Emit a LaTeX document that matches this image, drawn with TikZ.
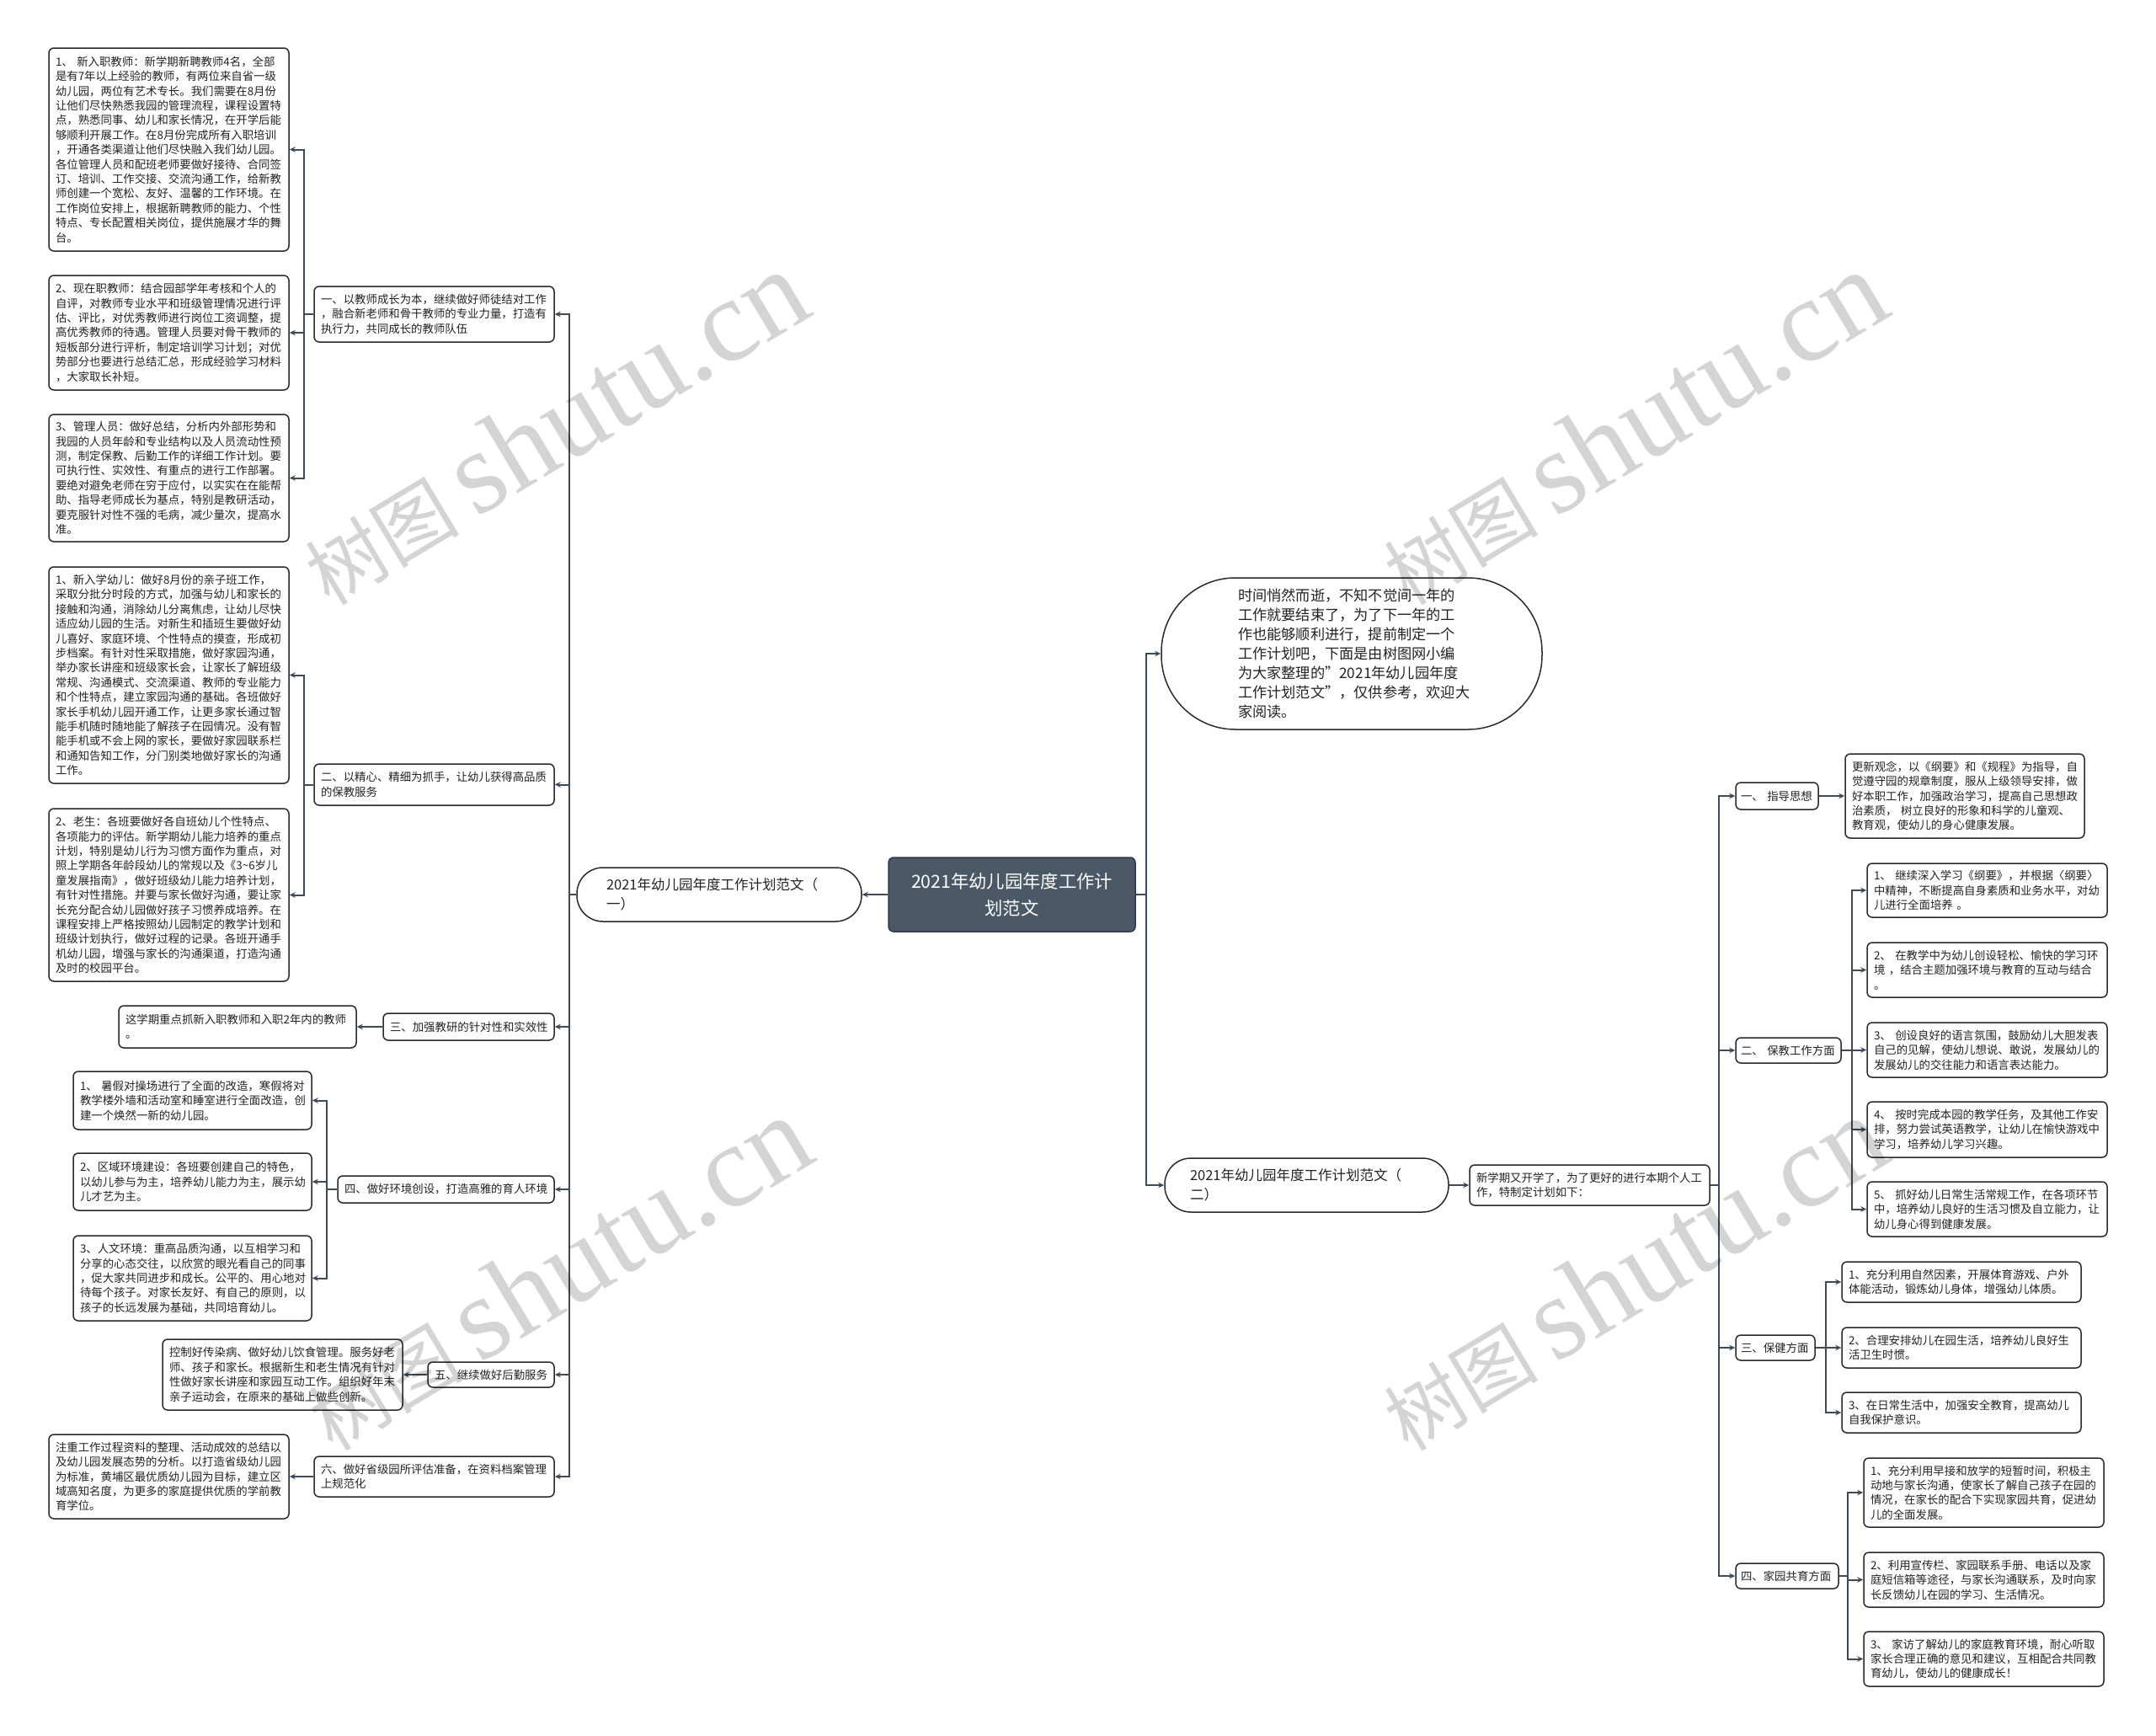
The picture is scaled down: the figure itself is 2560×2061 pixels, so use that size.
\documentclass[tikz,border=0pt]{standalone}
\usepackage{fontspec}
\setmainfont{Noto Sans CJK SC}
\newfontfamily\wmlatin{Liberation Serif}
\usetikzlibrary{arrows.meta}
\definecolor{boxc}{HTML}{2A2A2A}
\definecolor{textc}{HTML}{222222}
\definecolor{linec}{HTML}{3E4B57}
\definecolor{rootc}{HTML}{4B5866}
\definecolor{rootb}{HTML}{2E3A45}
\newcommand\fsm{\fontsize{13.4pt}{17.4pt}\selectfont}
\newcommand\fmid{\fontsize{16.5pt}{23pt}\selectfont}
\newcommand\fintro{\fontsize{17.2pt}{23pt}\selectfont}
\newcommand\fbig{\fontsize{21.3pt}{32pt}\selectfont}
\newcommand\mkbox[7][]{%
 \pgfmathsetmacro\bxcx{(#3+#5)/2}%
 \pgfmathsetmacro\bxcy{(#4+#6)/2}%
 \pgfmathsetmacro\bxw{#5-#3}%
 \pgfmathsetmacro\bxh{#6-#4}%
 \pgfmathsetmacro\bxtw{#5-#3-16}%
 \node[box,minimum width=\bxw pt,minimum height=\bxh pt,text width=\bxtw pt,#1] (#2) at (\bxcx,\bxcy) {#7};}
\tikzset{
 box/.style={draw=boxc, line width=1.5pt, rounded corners=6pt, fill=white, inner xsep=8pt, inner ysep=0pt, align=left, font=\fsm, text=textc},
 conn/.style={draw=linec, line width=2pt, -{Stealth[length=7pt,width=6.5pt]}},
 rootst/.style={fill=rootc, draw=rootb, text=white, font=\fbig, align=center, text width=281pt, inner xsep=6pt},
 pill/.style={font=\fmid, inner xsep=35pt, text width=268pt, rounded corners=31pt},
 introst/.style={font=\fintro, inner xsep=91pt, text width=270pt, rounded corners=88pt},
 wm/.style={rotate=31, text=black, text opacity=0.17, inner sep=0pt},
}
\begin{document}
\begin{tikzpicture}[x=1pt,y=-1pt]
\fill[white] (0,0) rectangle (2560,2061);
\useasboundingbox (0,0) rectangle (2560,2061);

% root and first level
\mkbox[rootst]{root}{1055}{1018}{1348}{1106}{2021年幼儿园年度工作计\\划范文}
\mkbox[pill]{N1}{685}{1030}{1023}{1094}{2021年幼儿园年度工作计划范文（\\一）}
\mkbox[introst]{intro}{1379}{686}{1831}{866}{时间悄然而逝，不知不觉间一年的\\工作就要结束了，为了下一年的工\\作也能够顺利进行，提前制定一个\\工作计划吧，下面是由树图网小编\\为大家整理的"2021年幼儿园年度\\工作计划范文"，仅供参考，欢迎大\\家阅读。}
\mkbox[pill,inner xsep=30pt,text width=277pt]{N2}{1383}{1375}{1720}{1439}{2021年幼儿园年度工作计划范文（\\二）}

% left branches
\mkbox{B1}{373}{340}{658}{406}{一、以教师成长为本，继续做好师徒结对工作\\，融合新老师和骨干教师的专业力量，打造有\\执行力，共同成长的教师队伍}
\mkbox{L1}{58}{57}{343}{298}{1、~新入职教师：新学期新聘教师4名，全部\\是有7年以上经验的教师，有两位来自省一级\\幼儿园，两位有艺术专长。我们需要在8月份\\让他们尽快熟悉我园的管理流程，课程设置特\\点，熟悉同事、幼儿和家长情况，在开学后能\\够顺利开展工作。在8月份完成所有入职培训\\，开通各类渠道让他们尽快融入我们幼儿园。\\各位管理人员和配班老师要做好接待、合同签\\订、培训、工作交接、交流沟通工作，给新教\\师创建一个宽松、友好、温馨的工作环境。在\\工作岗位安排上，根据新聘教师的能力、个性\\特点、专长配置相关岗位，提供施展才华的舞\\台。}
\mkbox{L2}{58}{327}{343}{463}{2、现在职教师：结合园部学年考核和个人的\\自评，对教师专业水平和班级管理情况进行评\\估、评比，对优秀教师进行岗位工资调整，提\\高优秀教师的待遇。管理人员要对骨干教师的\\短板部分进行评析，制定培训学习计划；对优\\势部分也要进行总结汇总，形成经验学习材料\\，大家取长补短。}
\mkbox{L3}{58}{492}{343}{643}{3、管理人员：做好总结，分析内外部形势和\\我园的人员年龄和专业结构以及人员流动性预\\测，制定保教、后勤工作的详细工作计划。要\\可执行性、实效性、有重点的进行工作部署。\\要绝对避免老师在穷于应付，以实实在在能帮\\助、指导老师成长为基点，特别是教研活动，\\要克服针对性不强的毛病，减少量次，提高水\\准。}

\mkbox{B2}{373}{907}{658}{956}{二、以精心、精细为抓手，让幼儿获得高品质\\的保教服务}
\mkbox{L2a}{58}{673}{343}{930}{1、新入学幼儿：做好8月份的亲子班工作，\\采取分批分时段的方式，加强与幼儿和家长的\\接触和沟通，消除幼儿分离焦虑，让幼儿尽快\\适应幼儿园的生活。对新生和插班生要做好幼\\儿喜好、家庭环境、个性特点的摸查，形成初\\步档案。有针对性采取措施，做好家园沟通，\\举办家长讲座和班级家长会，让家长了解班级\\常规、沟通模式、交流渠道、教师的专业能力\\和个性特点，建立家园沟通的基础。各班做好\\家长手机幼儿园开通工作，让更多家长通过智\\能手机随时随地能了解孩子在园情况。没有智\\能手机或不会上网的家长，要做好家园联系栏\\和通知告知工作，分门别类地做好家长的沟通\\工作。}
\mkbox{L2b}{58}{960}{343}{1165}{2、老生：各班要做好各自班幼儿个性特点、\\各项能力的评估。新学期幼儿能力培养的重点\\计划，特别是幼儿行为习惯方面作为重点，对\\照上学期各年龄段幼儿的常规以及《3\textasciitilde 6岁儿\\童发展指南》，做好班级幼儿能力培养计划，\\有针对性措施。并要与家长做好沟通，要让家\\长充分配合幼儿园做好孩子习惯养成培养。在\\课程安排上严格按照幼儿园制定的教学计划和\\班级计划执行，做好过程的记录。各班开通手\\机幼儿园，增强与家长的沟通渠道，打造沟通\\及时的校园平台。}

\mkbox{B3}{455}{1203}{658}{1235}{三、加强教研的针对性和实效性}
\mkbox{L3a}{141}{1194}{423}{1244}{这学期重点抓新入职教师和入职2年内的教师\\。}

\mkbox{B4}{401}{1396}{658}{1428}{四、做好环境创设，打造高雅的育人环境}
\mkbox{L4a}{87}{1272}{370}{1341}{1、~暑假对操场进行了全面的改造，寒假将对\\教学楼外墙和活动室和睡室进行全面改造，创\\建一个焕然一新的幼儿园。}
\mkbox{L4b}{87}{1369}{370}{1437}{2、区域环境建设：各班要创建自己的特色，\\以幼儿参与为主，培养幼儿能力为主，展示幼\\儿才艺为主。}
\mkbox{L4c}{87}{1467}{370}{1568}{3、人文环境：重高品质沟通，以互相学习和\\分享的心态交往，以欣赏的眼光看自己的同事\\，促大家共同进步和成长。公平的、用心地对\\待每个孩子。对家长友好、有自己的原则，以\\孩子的长远发展为基础，共同培育幼儿。}

\mkbox{B5}{508}{1617}{658}{1647}{五、继续做好后勤服务}
\mkbox{L5}{193}{1590}{478}{1674}{控制好传染病、做好幼儿饮食管理。服务好老\\师、孩子和家长。根据新生和老生情况有针对\\性做好家长讲座和家园互动工作。组织好年末\\亲子运动会，在原来的基础上做些创新。}

\mkbox{B6}{373}{1729}{658}{1777}{六、做好省级园所评估准备，在资料档案管理\\上规范化}
\mkbox{L6}{58}{1703}{343}{1803}{注重工作过程资料的整理、活动成效的总结以\\及幼儿园发展态势的分析。以打造省级幼儿园\\为标准，黄埔区最优质幼儿园为目标，建立区\\域高知名度，为更多的家庭提供优质的学前教\\育学位。}

% right branches
\mkbox{I2}{1745}{1383}{2030}{1431}{新学期又开学了，为了更好的进行本期个人工\\作，特制定计划如下：}
\mkbox[inner xsep=6pt,text width=86pt]{R1}{2061}{929}{2159}{961}{一、~指导思想}
\mkbox{R1a}{2191}{895}{2475}{995}{更新观念，以《纲要》和《规程》为指导，自\\觉遵守园的规章制度，服从上级领导安排，做\\好本职工作，加强政治学习，提高自己思想政\\治素质，~树立良好的形象和科学的儿童观、\\教育观，使幼儿的身心健康发展。}
\mkbox[inner xsep=6pt,text width=113pt]{R2}{2061}{1232}{2186}{1262}{二、~保教工作方面}
\mkbox{R2a}{2217}{1025}{2502}{1089}{1、~继续深入学习《纲要》，并根据〈纲要〉\\中精神，不断提高自身素质和业务水平，对幼\\儿进行全面培养~。}
\mkbox{R2b}{2217}{1119}{2502}{1184}{2、~在教学中为幼儿创设轻松、愉快的学习环\\境~，结合主题加强环境与教育的互动与结合\\。}
\mkbox{R2c}{2217}{1214}{2502}{1279}{3、~创设良好的语言氛围，鼓励幼儿大胆发表\\自己的见解，使幼儿想说、敢说，发展幼儿的\\发展幼儿的交往能力和语言表达能力。}
\mkbox{R2d}{2217}{1308}{2502}{1374}{4、~按时完成本园的教学任务，及其他工作安\\排，努力尝试英语教学，让幼儿在愉快游戏中\\学习，培养幼儿学习兴趣。}
\mkbox{R2e}{2217}{1403}{2502}{1468}{5、~抓好幼儿日常生活常规工作，在各项环节\\中，培养幼儿良好的生活习惯及自立能力，让\\幼儿身心得到健康发展。}
\mkbox[inner xsep=6pt,text width=82pt]{R3}{2061}{1585}{2155}{1615}{三、保健方面}
\mkbox{R3a}{2187}{1498}{2471}{1546}{1、充分利用自然因素，开展体育游戏、户外\\体能活动，锻炼幼儿身体，增强幼儿体质。}
\mkbox{R3b}{2187}{1576}{2471}{1624}{2、合理安排幼儿在园生活，培养幼儿良好生\\活卫生时惯。}
\mkbox{R3c}{2187}{1653}{2471}{1701}{3、在日常生活中，加强安全教育，提高幼儿\\自我保护意识。}
\mkbox[inner xsep=6pt,text width=110pt]{R4}{2061}{1856}{2183}{1886}{四、家园共育方面}
\mkbox{R4a}{2213}{1731}{2498}{1813}{1、充分利用早接和放学的短暂时间，积极主\\动地与家长沟通，使家长了解自己孩子在园的\\情况，在家长的配合下实现家园共育，促进幼\\儿的全面发展。}
\mkbox{R4b}{2213}{1843}{2498}{1908}{2、利用宣传栏、家园联系手册、电话以及家\\庭短信箱等途径，与家长沟通联系，及时向家\\长反馈幼儿在园的学习、生活情况。}
\mkbox{R4c}{2213}{1937}{2498}{2002}{3、~家访了解幼儿的家庭教育环境，耐心听取\\家长合理正确的意见和建议，互相配合共同教\\育幼儿，使幼儿的健康成长！}

% connectors
\draw[conn] (root.west) -- (root.west -| N1.east);
\foreach \t in {intro,N2} \draw[conn] (root.east) -- ++(12,0) |- (\t.west);
\foreach \t in {B1,B2,B3,B4,B5,B6} \draw[conn] (N1.west) -- ++(-8,0) |- (\t.east);
\foreach \t in {L1,L2,L3} \draw[conn] (B1.west) -- ++(-11,0) |- (\t.east);
\foreach \t in {L2a,L2b} \draw[conn] (B2.west) -- ++(-11,0) |- (\t.east);
\draw[conn] (B3.west) -- (B3.west -| L3a.east);
\foreach \t in {L4a,L4b,L4c} \draw[conn] (B4.west) -- ++(-12,0) |- (\t.east);
\draw[conn] (B5.west) -- (B5.west -| L5.east);
\draw[conn] (B6.west) -- (B6.west -| L6.east);
\draw[conn] (N2.east) -- (N2.east -| I2.west);
\foreach \t in {R1,R2,R3,R4} \draw[conn] (I2.east) -- ++(10,0) |- (\t.west);
\draw[conn] (R1.east) -- (R1.east -| R1a.west);
\foreach \t in {R2a,R2b,R2c,R2d,R2e} \draw[conn] (R2.east) -- ++(12,0) |- (\t.west);
\foreach \t in {R3a,R3b,R3c} \draw[conn] (R3.east) -- ++(12,0) |- (\t.west);
\foreach \t in {R4a,R4b,R4c} \draw[conn] (R4.east) -- ++(10,0) |- (\t.west);

% watermarks
\foreach \p [count=\i] in {(657,508),(1938,508),(661,1512),(1938,1512)}
  \node[wm] (wm\i) at \p {{\fontsize{92pt}{92pt}\selectfont 树图}\hspace{20pt}{\wmlatin\fontsize{140pt}{140pt}\selectfont shutu.cn}};
\end{tikzpicture}
\end{document}
